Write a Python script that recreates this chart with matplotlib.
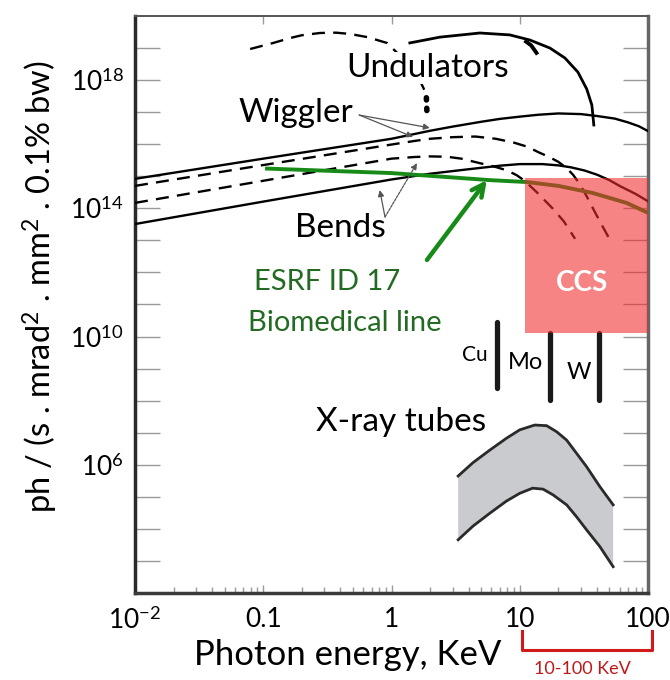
import numpy as np
import matplotlib
matplotlib.use("Agg")
import matplotlib.pyplot as plt
from matplotlib.patches import Rectangle
from matplotlib.ticker import FixedLocator, LogLocator, NullFormatter, FixedFormatter

plt.rcParams['font.family'] = ['Lato', 'DejaVu Sans']
plt.rcParams['mathtext.fontset'] = 'custom'
plt.rcParams['mathtext.rm'] = 'Lato'
plt.rcParams['mathtext.it'] = 'Lato:italic'

# ---------------- data (x in keV, y as log10 of brilliance) ----------------
wig_solid_x = [0.01, 0.1, 1, 2, 3, 5, 7, 10, 14, 20, 30, 40, 55, 70, 85, 100]
wig_solid_logy = [14.92, 15.55, 16.17, 16.42, 16.55, 16.70, 16.79, 16.86, 16.92, 16.96,
                  16.94, 16.88, 16.80, 16.68, 16.56, 16.41]

wig_dash_x = [0.01, 0.1, 1, 1.5, 2, 3, 4.5, 6.5, 9, 11.5, 14, 17, 20, 23, 26, 29.5, 33, 37, 42, 50]
wig_dash_logy = [14.70, 15.35, 15.99, 16.10, 16.17, 16.22, 16.24, 16.17, 16.05, 15.92, 15.75,
                 15.60, 15.45, 15.27, 15.05, 14.75, 14.40, 14.02, 13.60, 13.05]

bend_dash_x = [0.01, 0.1, 1, 1.5, 2, 2.7, 3.5, 5, 6.5, 8, 9.5, 11, 14, 18, 22, 27]
bend_dash_logy = [14.17, 14.86, 15.55, 15.60, 15.62, 15.61, 15.55, 15.40, 15.29, 15.18, 15.03,
                  14.85, 14.45, 14.00, 13.60, 13.05]

bend_solid_x = [0.01, 0.1, 1, 2, 4, 7, 10, 15, 20, 25, 32, 40, 50, 60, 80, 100]
bend_solid_logy = [13.51, 14.21, 14.90, 15.08, 15.22, 15.33, 15.38, 15.38, 15.34, 15.28, 15.18,
                   15.05, 14.88, 14.70, 14.45, 14.22]

esrf_x = [0.107, 1, 5.85, 11.4, 20, 37, 68, 100]
esrf_logy = [15.24, 15.10, 14.88, 14.82, 14.70, 14.48, 14.17, 13.86]

und_solid_x = [1.39, 2.38, 4.89, 8.37, 12.0, 17.2, 22.5, 28.4, 33.3, 36.5, 37.8]
und_solid_logy = [19.16, 19.34, 19.47, 19.41, 19.25, 19.00, 18.69, 18.25, 17.72, 17.22, 16.60]

und_harm_x = [11.2, 12.3, 13.5]
und_harm_logy = [19.20, 19.08, 18.85]

und_dash_x = [0.079, 0.12, 0.161, 0.2, 0.277, 0.37, 0.474, 0.65, 0.92, 1.52, 1.80]
und_dash_logy = [18.97, 19.16, 19.31, 19.40, 19.47, 19.48, 19.44, 19.34, 19.16, 18.32, 17.70]
und_dot_x = [1.87, 1.89]
und_dot_logy = [17.45, 16.97]

tube_x = [3.31, 4.33, 5.85, 7.89, 10.0, 13.1, 16.2, 19.4, 23.2, 27.7, 33.2, 42.1, 53.5]
tube_upper_logy = [5.65, 6.07, 6.46, 6.83, 7.09, 7.24, 7.22, 7.03, 6.77, 6.36, 5.94, 5.32, 4.75]
tube_lower_x = [3.31, 4.33, 5.85, 7.89, 10.0, 12.6, 15.2, 18.2, 23.2, 27.7, 33.2, 42.1, 53.5]
tube_lower_logy = [3.66, 4.09, 4.49, 4.87, 5.11, 5.27, 5.24, 5.06, 4.75, 4.38, 3.97, 3.45, 2.82]

lines_names = ['Cu', 'Mo', 'W']
lines_x = [6.7, 17.2, 41.5]
lines_top_logy = [10.46, 10.11, 10.11]
lines_bot_logy = [8.40, 8.02, 8.02]

ccs_x = [10.9, 100]
ccs_logy = [10.11, 14.95]

xticks = [0.01, 0.1, 1, 10, 100]
xticklabels = ['$10^{-2}$', '0.1', '1', '10', '100']
yticks_labeled = [6, 10, 14, 18]

# ---------------- figure ----------------
fig = plt.figure(figsize=(6.7, 6.8), dpi=100)
ax = fig.add_axes([135/670, 1-593/680, 513/670, 577/680])
ax.set_xscale('log')
ax.set_yscale('log')
ax.set_xlim(0.01, 100)
ax.set_ylim(1e2, 1e20)

def P(v):
    return 10.0 ** np.array(v)

lw = 1.7
dash = (0, (5.5, 3.5))
ax.plot(wig_solid_x, P(wig_solid_logy), color='black', lw=lw, zorder=3)
ax.plot(wig_dash_x, P(wig_dash_logy), color='black', lw=lw, ls=dash, zorder=3)
ax.plot(bend_dash_x, P(bend_dash_logy), color='black', lw=lw, ls=dash, zorder=3)
ax.plot(bend_solid_x, P(bend_solid_logy), color='black', lw=lw, zorder=3)
ax.plot(und_solid_x, P(und_solid_logy), color='black', lw=2.0, zorder=3)
ax.plot(und_harm_x, P(und_harm_logy), color='black', lw=2.8, zorder=3)
ax.plot(und_dash_x, P(und_dash_logy), color='black', lw=lw, ls=dash, zorder=3)
ax.plot(und_dot_x, P(und_dot_logy), color='black', lw=4.0, ls=(0, (0.4, 1.5)),
        dash_capstyle='round', zorder=3)
ax.plot(esrf_x, P(esrf_logy), color='#178a17', lw=2.8, zorder=4)

# CCS box (semi transparent over the curves)
ax.add_patch(Rectangle((ccs_x[0], 10**ccs_logy[0]), ccs_x[1]-ccs_x[0],
                       10**ccs_logy[1]-10**ccs_logy[0],
                       facecolor='#f22c2c', alpha=0.58, edgecolor='none', zorder=5))
ax.text(0.871, 0.537, 'CCS', transform=ax.transAxes, color='white', fontsize=20,
        fontweight='bold', ha='center', va='center', zorder=6)

# characteristic lines
for nm, xv, t, b in zip(lines_names, lines_x, lines_top_logy, lines_bot_logy):
    ax.plot([xv, xv], [10**b, 10**t], color='#1a1a1a', lw=3.8,
            solid_capstyle='round', zorder=4)
ax.text(0.663, 0.412, 'Cu', transform=ax.transAxes, fontsize=15, ha='center', va='center')
ax.text(0.762, 0.399, 'Mo', transform=ax.transAxes, fontsize=17, ha='center', va='center')
ax.text(0.865, 0.383, 'W', transform=ax.transAxes, fontsize=17, ha='center', va='center')

# X-ray tubes band
ax.fill(list(tube_x) + list(tube_lower_x[::-1]),
        list(P(tube_upper_logy)) + list(P(tube_lower_logy)[::-1]),
        color='#c9cbce', zorder=2, lw=0)
ax.plot(tube_x, P(tube_upper_logy), color='#2a2a2a', lw=2.0, zorder=3)
ax.plot(tube_lower_x, P(tube_lower_logy), color='#2a2a2a', lw=2.0, zorder=3)

# labels
ax.text(0.571, 0.910, 'Undulators', transform=ax.transAxes, fontsize=24,
        ha='center', va='center', zorder=4,
        bbox=dict(facecolor='white', edgecolor='none', pad=0.5))
ax.text(0.314, 0.832, 'Wiggler', transform=ax.transAxes, fontsize=24,
        ha='center', va='center', zorder=4)
ax.text(0.400, 0.633, 'Bends', transform=ax.transAxes, fontsize=24,
        ha='center', va='center', zorder=4)
ax.text(0.519, 0.296, 'X-ray tubes', transform=ax.transAxes, fontsize=24,
        ha='center', va='center', zorder=4)
ax.text(0.232, 0.539, 'ESRF ID 17', transform=ax.transAxes, fontsize=21,
        color='#236b23', ha='left', va='center', zorder=4)
ax.text(0.220, 0.468, 'Biomedical line', transform=ax.transAxes, fontsize=21,
        color='#236b23', ha='left', va='center', zorder=4)

# annotation arrows
ap_gray = dict(arrowstyle='-|>', color='#555555', lw=0.9, mutation_scale=9,
               shrinkA=0, shrinkB=0)
ax.annotate('', xy=(1.99, 10**16.51), xytext=(0.56, 10**16.91), arrowprops=ap_gray, zorder=4)
ax.annotate('', xy=(1.47, 10**16.23), xytext=(0.56, 10**16.91), arrowprops=ap_gray, zorder=4)
ax.annotate('', xy=(0.81, 10**14.57), xytext=(0.89, 10**13.73), arrowprops=ap_gray, zorder=4)
ap_gray2 = dict(ap_gray, ls=(0, (2, 1)))
ax.annotate('', xy=(1.58, 10**15.41), xytext=(0.89, 10**13.73), arrowprops=ap_gray2, zorder=4)
ax.annotate('', xy=(5.54, 10**14.88), xytext=(1.89, 10**12.39),
            arrowprops=dict(arrowstyle='->', color='#178a17', lw=3.2, mutation_scale=22,
                            shrinkA=0, shrinkB=0), zorder=4)

# ---------------- axes styling ----------------
ax.xaxis.set_major_locator(FixedLocator(xticks))
ax.xaxis.set_major_formatter(FixedFormatter(xticklabels))
ax.xaxis.set_minor_locator(LogLocator(base=10, subs=np.arange(2, 10), numticks=20))
ax.xaxis.set_minor_formatter(NullFormatter())
ax.tick_params(axis='x', which='major', direction='in', length=6, width=1,
               color='#999999', labelsize=19, pad=10, top=True)
ax.tick_params(axis='x', which='minor', direction='in', length=4, width=1,
               color='#999999')

ydec = list(range(3, 20))
ax.yaxis.set_major_locator(FixedLocator([10.0**k for k in ydec]))
ax.yaxis.set_major_formatter(FixedFormatter(
    ['$10^{%d}$' % k if k in yticks_labeled else '' for k in ydec]))
ax.yaxis.set_minor_locator(FixedLocator([]))
ax.tick_params(axis='y', which='major', direction='in', length=18, width=1,
               color='#999999', labelsize=19, pad=8, right=True)

ax.spines['left'].set_linewidth(2.5)
ax.spines['left'].set_color('#2a2a2a')
ax.spines['bottom'].set_linewidth(2.5)
ax.spines['bottom'].set_color('#3a3a3a')
ax.spines['top'].set_linewidth(1.4)
ax.spines['top'].set_color('#555555')
ax.spines['right'].set_linewidth(2.5)
ax.spines['right'].set_color('#666666')

fig.text(40/670, 1-287/680, 'ph / (s . mrad$^2$ . mm$^2$ . 0.1% bw)', rotation=90,
         fontsize=23.5, ha='center', va='center')
fig.text(348/670, 1-655/680, 'Photon energy, KeV', fontsize=25, ha='center', va='center')

# red bracket for 10-100 keV
tr = ax.get_xaxis_transform()
ax.plot([10.5, 10.5, 107, 107], [-0.066, -0.099, -0.099, -0.066], color='#d21a1a',
        lw=2.2, transform=tr, clip_on=False)
ax.text(31, -0.140, '10-100 KeV', transform=tr, color='#c01818', fontsize=13,
        ha='center', va='baseline', clip_on=False)

fig.savefig('out.png', dpi=100)
